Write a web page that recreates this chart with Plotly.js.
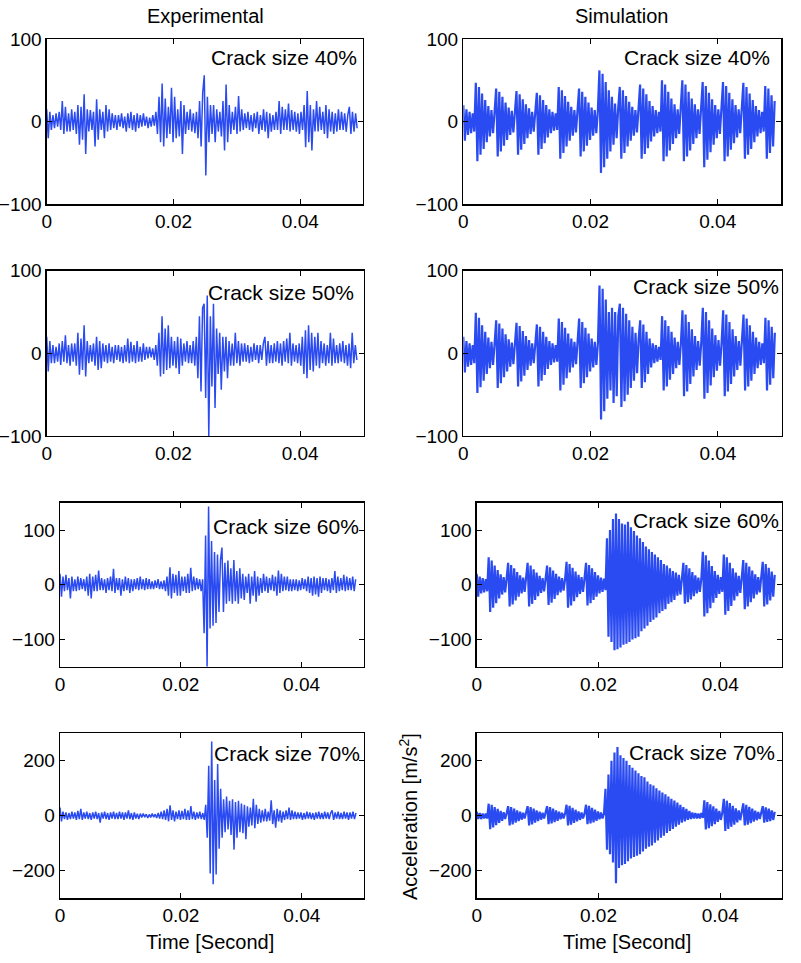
<!DOCTYPE html>
<html>
<head>
<meta charset="utf-8">
<script src="https://cdn.plot.ly/plotly-3.0.1.min.js"></script>
<style>
  html, body { margin: 0; padding: 0; background: #ffffff; }
  #chart { width: 801px; height: 963px; }
</style>
</head>
<body>
<div id="chart"></div>
<script>
// ---------------- data ----------------
// sample spacing of the digitised signals [s]
const DT = 0.000246;

const columnTitles = ['Experimental', 'Simulation'];
const crackLabels = ['Crack size 40%', 'Crack size 50%', 'Crack size 60%', 'Crack size 70%'];
const xTickVals = [0, 0.02, 0.04];
const xTickText = ['0', '0.02', '0.04'];
const yTickVals100 = [-100, 0, 100];
const yTickText100 = ['\u2212100', '0', '100'];
const yTickVals200 = [-200, 0, 200];
const yTickText200 = ['\u2212200', '0', '200'];
const xTitle = 'Time [Second]';
const yTitle = 'Acceleration [m/s<sup>2</sup>]';

// Experimental, crack 40 %  [m/s^2]
const exp40 = [15,-20,12,-10,
  8,-8,10,-6,12,-10,
  25,-15,18,-12,
  10,-12,15,-10,12,-15,
  20,-28,18,-22,33,-39,15,
  -12,14,-10,12,
  -30,27,-22,15,
  -10,12,-20,20,-12,
  15,-10,10,-8,8,
  -10,8,-6,10,-8,6,
  -12,10,-8,12,-10,8,-12,10,-8,
  8,-6,10,-5,6,-8,5,-6,8,-5,
  12,-15,30,-25,46,-30,28,-20,18,-15,
  41,-25,30,-20,15,-18,
  25,-39,20,-15,
  12,-10,15,-12,10,-14,12,
  -20,25,-30,35,56,-65,30,-25,
  20,-15,20,-25,15,-12,
  12,-18,25,-35,45,
  -25,20,-15,12,-10,
  18,-15,31,-12,15,-10,
  10,-8,12,-10,8,-12,
  10,-8,12,-15,8,-10,15,-12,
  12,-20,10,-12,8,-10,
  12,-10,25,-15,18,-10,
  15,-10,22,-12,14,-10,
  12,-12,10,-15,12,-10,
  20,-31,37,-25,20,-35,
  15,-12,25,-12,18,-10,
  12,-15,20,-20,15,-12,
  12,-15,10,-12,15,-10,
  12,-10,10,-12,8,
  18,-15,12,-12,10,-8];

// Simulation, crack 40 %
const sim40 = [20,-23,15,-16,12,-14,10,-12,
  47,-48,42,-40,34,-33,26,-25,19,-18,14,-14,12,
  40,-42,36,-36,30,-29,23,-22,17,-16,13,-13,11,
  37,-40,33,-34,27,-27,21,-20,16,-15,12,-12,10,
  35,-40,32,-33,26,-26,20,-19,15,-14,12,-11,10,-10,
  42,-45,38,-38,31,-30,24,-23,18,-17,14,-13,12,
  40,-42,36,-36,30,-29,23,-22,17,-17,14,-14,13,
  62,-62,58,-55,48,-45,38,-36,30,-28,22,-20,16,
  42,-45,38,-38,31,-30,24,-23,18,-17,14,-13,12,
  45,-45,40,-39,33,-32,25,-24,19,-18,14,-14,12,-12,
  50,-48,45,-42,36,-35,28,-27,21,-20,15,-15,13,
  50,-48,45,-42,36,-35,28,-27,21,-20,15,-15,13,
  48,-55,43,-46,35,-37,27,-28,20,-20,15,-15,13,
  48,-48,43,-42,35,-34,27,-26,20,-19,15,-14,12,
  47,-45,42,-40,34,-33,26,-25,19,-18,14,-14,12,-12,
  43,-45,40,-38,32,-30,25];

// Experimental, crack 50 %
const exp50 = [20,-22,15,-12,
  10,-12,8,-10,12,-14,15,-10,22,
  -12,10,-15,12,
  -10,12,-15,25,-26,
  18,-20,34,-28,15,
  -12,10,-10,12,-15,
  20,-20,15,-18,12,-10,
  10,-12,12,-10,8,-12,10,
  -8,10,-10,8,-12,10,
  -10,18,-12,14,-10,
  10,-12,15,-10,8,-10,12,-8,
  8,-6,8,-5,6,-8,10,
  -15,25,-28,45,-25,30,
  -20,34,-18,20,-15,
  15,-18,20,-25,18,-15,
  12,-10,15,-12,10,-12,15,
  -15,20,-30,45,-46,55,
  60,-54,70,-100,
  45,-40,60,-66,
  30,-25,25,-44,
  20,-22,20,-30,15,-15,
  12,-15,25,-12,15,-15,12,
  -10,12,-10,10,-12,8,-10,12,
  -8,10,-12,10,-8,12,
  20,-15,15,-12,10,-12,12,
  -10,15,-12,12,-15,15,-10,18,-12,
  25,-15,12,-10,10,-12,12,
  -15,20,-25,28,-30,34,
  -20,25,-22,20,-15,25,
  -18,15,-12,12,-15,10,-12,
  25,-15,18,-12,10,
  -12,12,-10,15,-12,10,-15,
  12,-18,25,-12,10,-8];

// Simulation, crack 50 %
const sim50 = [20,-23,15,-16,12,-14,10,-12,
  49,-48,43,-41,34,-33,26,-25,19,-18,14,-14,12,
  40,-42,36,-36,30,-29,23,-22,17,-16,13,-13,11,
  37,-40,33,-34,27,-27,21,-20,16,-15,12,-12,10,
  35,-40,32,-33,26,-26,20,-19,15,-14,12,-11,10,-10,
  42,-45,38,-38,31,-30,24,-23,18,-17,14,-13,12,
  42,-42,38,-36,31,-29,24,-22,18,-17,14,-14,13,
  82,-80,78,-70,65,-55,50,-45,55,-60,50,-52,45,
  60,-65,55,-58,48,-50,40,-42,32,-33,25,-24,18,
  40,-42,35,-35,26,-25,18,-17,12,-12,10,-10,8,-8,
  45,-45,40,-40,33,-32,26,-25,19,-18,14,-14,12,
  52,-52,47,-46,38,-37,29,-28,21,-20,15,-15,13,
  55,-55,50,-48,40,-39,30,-29,22,-21,16,-15,13,
  52,-52,47,-46,38,-37,29,-28,21,-20,15,-15,13,
  47,-45,42,-40,34,-33,26,-25,19,-18,14,-14,12,-12,
  43,-45,40,-38,32,-30,25];

// Experimental, crack 60 %
const exp60 = [20,-22,15,-12,18,
  -10,12,-25,15,-12,
  10,-12,15,-10,12,-8,10,-12,
  15,-20,20,-25,15,-12,
  18,-12,26,-10,12,-10,
  10,-15,12,-10,15,-12,
  29,-15,12,-10,
  12,-20,10,-12,15,-10,12,-15,10,-12,
  10,-8,12,-10,15,-8,10,-10,12,-8,10,
  -8,6,-8,8,-6,10,-8,6,-8,8,
  -12,15,-20,32,-25,20,
  -15,18,-20,25,-20,15,
  -12,15,-15,20,-15,31,
  -12,15,-10,12,-8,10,-12,10,
  -89,90,-150,143,-80,80,
  -75,60,-70,55,-50,45,
  68,-50,40,-35,44,-30,
  30,-35,45,-30,25,-35,
  30,-25,20,-28,15,-15,
  20,-35,15,-20,25,-31,
  15,-20,12,-15,20,-12,
  15,-15,12,-10,18,-12,
  15,-20,26,-15,20,-12,15,
  -10,15,-12,10,-12,10,-10,
  10,-12,8,-10,12,-8,10,-12,
  15,-15,12,-20,15,-18,12,
  -22,15,-15,12,-10,
  12,-12,10,-15,12,-10,
  25,-15,15,-12,12,-10,
  18,-12,15,-10,12,-10,15,
  -12,10];

// Simulation, crack 60 %
const sim60 = [20,-22,15,-16,12,-14,10,-12,
  50,-50,44,-42,35,-34,27,-25,19,-18,14,-14,12,
  40,-40,36,-36,30,-29,23,-22,17,-16,13,-13,11,
  40,-40,35,-35,28,-28,22,-21,16,-15,12,-12,10,
  35,-37,32,-33,26,-26,20,-19,15,-14,12,-11,10,
  42,-42,38,-38,31,-30,24,-23,18,-17,14,-13,12,
  40,-38,36,-34,30,-28,23,-22,17,-16,13,-13,11,-10,
  85,-95,100,-105,120,-120,130,-118,120,-115,
  112,-110,110,-108,115,-105,105,-100,98,-98,
  90,-95,85,-85,78,-80,70,-75,65,-68,
  60,-64,55,-60,50,-52,45,-48,38,-45,
  35,-35,30,-32,25,-28,22,-20,18,-18,
  15,
  40,-35,36,-32,30,-27,23,-21,17,-16,13,-13,11,
  60,-58,54,-52,44,-43,34,-33,25,-24,18,-17,14,-13,
  55,-55,50,-48,40,-39,30,-29,22,-21,16,-15,13,
  45,-45,40,-40,33,-32,26,-25,19,-18,14,-14,12,
  42,-40,38,-36,31,-29,24,-22,18];

// Experimental, crack 70 %
const exp70 = [30,-20,15,
  -12,12,-15,10,-12,15,-10,12,
  -15,18,-12,25,-15,12,-10,
  15,-12,10,-15,12,-10,15,-12,10,
  -25,12,-10,15,-12,10,-15,
  12,-10,15,-12,10,-12,15,-10,12,-15,
  12,-10,20,-12,10,-15,12,-10,8,-12,
  8,-6,8,-5,6,-8,5,-6,8,-5,6,-8,10,
  -10,15,-12,20,-15,25,-20,38,
  -15,20,-20,15,-12,20,-15,
  18,-12,25,-15,20,-15,35,
  -12,15,-15,12,-10,15,-12,10,-15,
  40,-80,182,-210,270,-249,
  130,-213,188,-120,98,-80,
  60,-60,70,-50,55,-70,
  60,-123,50,-80,55,-60,
  45,-63,40,-85,35,-40,30,
  -35,62,-45,40,-30,25,
  -25,20,-20,25,-20,15,
  -18,56,-30,20,-43,25,
  -20,20,-25,15,-15,20,-12,
  30,-15,20,-12,15,-12,12,
  -10,12,-15,10,-12,15,-10,12,-12,10,
  -15,12,-10,15,-12,10,-12,15,-10,12,
  -12,10,20,-15,12,-10,15,-12,10,-12,
  15,-10,12,-15,12,-10,15,-12,10];

// Simulation, crack 70 %
const sim70 = [15,-12,10,-12,8,-10,8,-10,
  44,-49,40,-42,32,-34,25,-26,18,-18,13,-12,10,
  35,-35,32,-31,26,-25,20,-19,15,-14,11,-10,8,
  35,-35,32,-31,26,-25,20,-19,15,-14,11,-10,8,
  35,-30,32,-28,26,-23,20,-18,15,-13,11,-10,8,
  40,-35,36,-32,29,-26,22,-20,16,-15,12,-10,8,
  40,-30,36,-28,29,-24,22,-18,16,-13,12,-10,8,
  98,-123,150,-140,200,-170,230,-245,250,-190,
  220,-180,210,-175,200,-165,185,-155,175,-150,
  165,-145,155,-140,145,-130,140,-120,125,-112,
  115,-108,110,-98,100,-90,92,-80,85,-72,
  78,-62,70,-55,62,-48,55,-40,48,-32,
  40,-25,32,-20,25,-15,18,-12,12,-10,
  10,-10,8,-10,10,-8,
  56,-50,50,-45,42,-38,34,-30,26,-22,18,-15,12,
  62,-55,55,-48,46,-40,36,-32,27,-24,20,-16,13,
  45,-35,40,-32,33,-27,26,-21,19,-16,14,-12,10,
  35,-25,31,-22,26,-19,20,-15,15];

// ---------------- layout helpers (page pixels -> paper fractions) ----------------
const W = 801, H = 963;
const px = v => v / W;
const py = v => 1 - v / H;

const FONT = 'Liberation Sans, Arial, Helvetica, sans-serif';
const LINE = '#2b4bf2';

// panel boxes in page pixels: [left, right, top, bottom]; lw = trace line width
const panels = [
  { y: exp40, box: [46.7, 362.5, 39, 204.3], xr: 0.0498, yr: 100, lab: crackLabels[0], lx: 359, ly: 57, lw: 1.5 },
  { y: sim40, box: [463.3, 781.3, 39, 204.3], xr: 0.0500, yr: 100, lab: crackLabels[0], lx: 772, ly: 57, lw: 2.2 },
  { y: exp50, box: [46.7, 363.5, 270.7, 436], xr: 0.0500, yr: 100, lab: crackLabels[1], lx: 356, ly: 292.7, lw: 1.5 },
  { y: sim50, box: [463.3, 781.5, 270.7, 436], xr: 0.0500, yr: 100, lab: crackLabels[1], lx: 780.5, ly: 286.7, lw: 2.2 },
  { y: exp60, box: [60, 363.8, 502.7, 666.7], xr: 0.0503, yr: 150, lab: crackLabels[2], lx: 361, ly: 526, lw: 1.5 },
  { y: sim60, box: [476.7, 781.7, 502.7, 666.7], xr: 0.0501, yr: 150, lab: crackLabels[2], lx: 781, ly: 520, lw: 2.2 },
  { y: exp70, box: [60, 363.5, 733.3, 898.3], xr: 0.0502, yr: 300, lab: crackLabels[3], lx: 362, ly: 753.3, lw: 1.5 },
  { y: sim70, box: [476.7, 781.7, 733.3, 898.3], xr: 0.0501, yr: 300, lab: crackLabels[3], lx: 777, ly: 752.7, lw: 2.2 }
];

const data = [];
const layout = {
  width: W, height: H,
  margin: { l: 0, r: 0, t: 0, b: 0 },
  paper_bgcolor: '#ffffff',
  plot_bgcolor: '#ffffff',
  showlegend: false,
  font: { family: FONT, size: 19, color: '#000000' },
  annotations: [],
  shapes: []
};

panels.forEach((p, k) => {
  const n = k + 1;
  const xa = 'xaxis' + (n === 1 ? '' : n);
  const ya = 'yaxis' + (n === 1 ? '' : n);
  const xref = 'x' + (n === 1 ? '' : n);
  const yref = 'y' + (n === 1 ? '' : n);
  const t = p.y.map((_, i) => i * DT);
  data.push({
    type: 'scatter', mode: 'lines', x: t, y: p.y,
    xaxis: xref, yaxis: yref,
    line: { color: LINE, width: p.lw },
    hoverinfo: 'skip'
  });
  const common = {
    showline: true, linecolor: '#000000', linewidth: 1.3, mirror: 'ticks',
    ticks: 'inside', ticklen: 5, tickwidth: 1, tickcolor: '#000000',
    showgrid: false, zeroline: false, fixedrange: true, automargin: false,
    tickfont: { family: FONT, size: 19, color: '#000000' }
  };
  layout[xa] = Object.assign({}, common, {
    domain: [px(p.box[0]), px(p.box[1])],
    range: [0, p.xr], anchor: yref,
    tickmode: 'array', tickvals: xTickVals, ticktext: xTickText
  });
  let tv = yTickVals100, tt = yTickText100;
  if (p.yr === 300) { tv = yTickVals200; tt = yTickText200; }
  layout[ya] = Object.assign({}, common, {
    domain: [py(p.box[3]), py(p.box[2])],
    range: [-p.yr, p.yr], anchor: xref,
    tickmode: 'array', tickvals: tv, ticktext: tt
  });
  layout.annotations.push({
    xref: 'paper', yref: 'paper', x: px(p.lx), y: py(p.ly),
    xanchor: 'right', yanchor: 'middle', showarrow: false,
    text: p.lab, font: { family: FONT, size: 21, color: '#000000' }
  });
});

// column titles
layout.annotations.push(
  { xref: 'paper', yref: 'paper', x: px(205), y: py(16.5), xanchor: 'center', yanchor: 'middle',
    showarrow: false, text: columnTitles[0], font: { family: FONT, size: 20, color: '#000000' } },
  { xref: 'paper', yref: 'paper', x: px(621), y: py(16.5), xanchor: 'center', yanchor: 'middle',
    showarrow: false, text: columnTitles[1], font: { family: FONT, size: 20, color: '#000000' } },
  // x-axis titles under the bottom row
  { xref: 'paper', yref: 'paper', x: px(210), y: py(941.7), xanchor: 'center', yanchor: 'middle',
    showarrow: false, text: xTitle, font: { family: FONT, size: 20, color: '#000000' } },
  { xref: 'paper', yref: 'paper', x: px(627), y: py(941.7), xanchor: 'center', yanchor: 'middle',
    showarrow: false, text: xTitle, font: { family: FONT, size: 20, color: '#000000' } },
  // y-axis title of the bottom-right panel
  { xref: 'paper', yref: 'paper', x: px(408), y: py(817), xanchor: 'center', yanchor: 'middle',
    textangle: -90, showarrow: false, text: yTitle, font: { family: FONT, size: 20, color: '#000000' } }
);

Plotly.newPlot('chart', data, layout, { staticPlot: true, displayModeBar: false });
</script>
</body>
</html>
